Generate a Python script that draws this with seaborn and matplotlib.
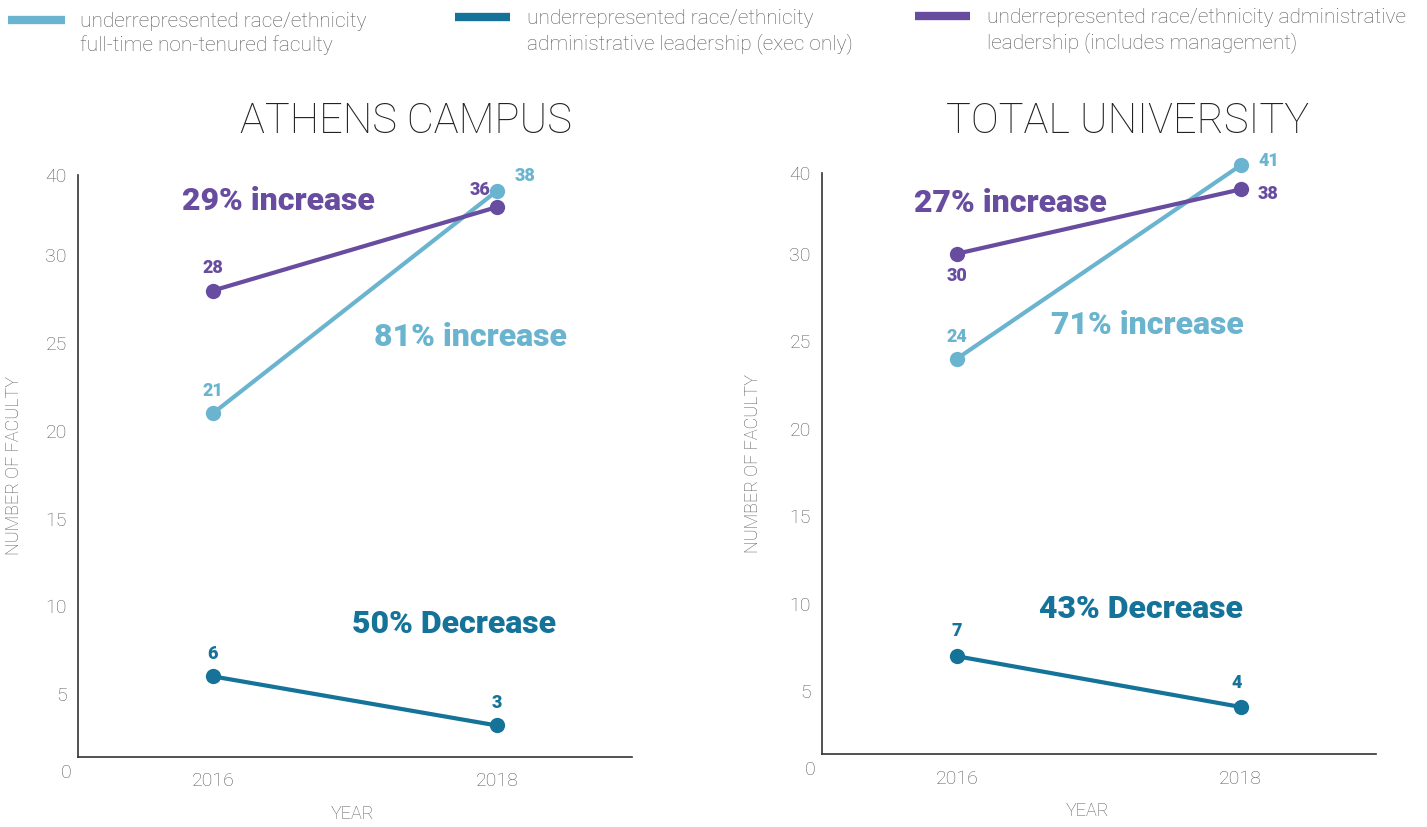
import numpy as np
import pandas as pd
import matplotlib
matplotlib.use('Agg')
import matplotlib.pyplot as plt
import seaborn as sns
from matplotlib.lines import Line2D

# ---- data ----
years = [2016, 2018]
series_names = ['nontenured', 'exec', 'mgmt']
series_labels = ['underrepresented race/ethnicity\nfull-time non-tenured faculty',
                 'underrepresented race/ethnicity\nadministrative leadership (exec only)',
                 'underrepresented race/ethnicity administrative\nleadership (includes management)']
athens_values = {'nontenured': [21, 38], 'exec': [6, 3], 'mgmt': [28, 36]}
total_values = {'nontenured': [24, 41], 'exec': [7, 4], 'mgmt': [30, 38]}
athens_changes = ['81% increase', '50% Decrease', '29% increase']
total_changes = ['71% increase', '43% Decrease', '27% increase']
panel_titles = ['ATHENS CAMPUS', 'TOTAL UNIVERSITY']
ytick_values = [5, 10, 15, 20, 25, 30, 40]

colors = {'nontenured': '#6AB4CF', 'exec': '#15739A', 'mgmt': '#684C9F'}
gray = '#5a5a5a'

# the source axis is not linear: 0..30 in steps of 5, then a jump to 40
knots = [0, 5, 10, 15, 20, 25, 30, 40]
spots = [0, 0.9, 1.9, 2.9, 3.9, 4.9, 5.9, 6.82]


def _piecewise(v, xs, ys):
    v = np.asarray(v, dtype=float)
    out = np.interp(v, xs, ys)
    hi_slope = (ys[-1] - ys[-2]) / (xs[-1] - xs[-2])
    lo_slope = (ys[1] - ys[0]) / (xs[1] - xs[0])
    out = np.where(v > xs[-1], ys[-1] + (v - xs[-1]) * hi_slope, out)
    out = np.where(v < xs[0], ys[0] + (v - xs[0]) * lo_slope, out)
    return out


def fwd(v):
    return _piecewise(v, knots, spots)


def inv(v):
    return _piecewise(v, spots, knots)


sns.set_theme(style='white')
plt.rcParams['font.family'] = ['Roboto', 'DejaVu Sans']

fig = plt.figure(figsize=(14.27, 8.27), dpi=100)
ax_left = fig.add_axes([0.0547, 0.0846, 0.388, 0.704])
ax_right = fig.add_axes([0.576, 0.088, 0.388, 0.7025])

# label offsets (points) per panel / series / year
label_offsets = [
    {'nontenured': [(0, 16), (20, 11)], 'exec': [(0, 16), (0, 16)], 'mgmt': [(0, 16), (-12, 12)]},
    {'nontenured': [(0, 16), (20, 3)], 'exec': [(0, 18), (-3, 17)], 'mgmt': [(0, -16), (20, -3)]},
]
change_pos = [
    {'nontenured': (0.708, 0.722), 'exec': (0.679, 0.228), 'mgmt': (0.361, 0.955)},
    {'nontenured': (0.588, 0.739), 'exec': (0.576, 0.250), 'mgmt': (0.341, 0.949)},
]

for i, (ax, vals, changes, title) in enumerate(zip([ax_left, ax_right],
                                                    [athens_values, total_values],
                                                    [athens_changes, total_changes],
                                                    panel_titles)):
    rows = []
    for s in series_names:
        for y, v in zip(years, vals[s]):
            rows.append({'year': y, 'count': v, 'series': s})
    df = pd.DataFrame(rows)

    ax.set_yscale('function', functions=(fwd, inv))
    sns.lineplot(data=df, x='year', y='count', hue='series', palette=colors,
                 hue_order=series_names, marker='o', markersize=11, markeredgewidth=0,
                 linewidth=3.0, legend=False, ax=ax)
    for ln in ax.lines:
        ln.set_clip_on(False)

    ax.set_xlim(2015.05, 2018.95)
    ax.set_ylim(1.0, 40)
    ax.set_yticks(ytick_values)
    ax.set_yticklabels([str(t) for t in ytick_values])
    ax.set_xticks(years)
    ax.set_xticklabels([str(y) for y in years])
    ax.yaxis.set_minor_locator(matplotlib.ticker.NullLocator())
    ax.set_xticks([2018.95], minor=True)

    ax.tick_params(axis='y', which='major', direction='in', length=11, width=1.2,
                   color='#333333', labelsize=14, labelcolor=gray, pad=8)
    ax.tick_params(axis='x', which='major', length=0, labelsize=14, labelcolor=gray, pad=11)
    ax.tick_params(axis='x', which='minor', direction='in', length=11, width=1.2,
                   color='#333333')
    for lab in ax.get_xticklabels() + ax.get_yticklabels():
        lab.set_fontweight('light')

    # "0" sits under the x axis line
    ax.text(-0.012, 0, '0', transform=ax.get_yaxis_transform(), ha='right', va='center',
            fontsize=14, color=gray, fontweight='light', clip_on=False)

    for side in ['top', 'right']:
        ax.spines[side].set_visible(False)
    for side in ['left', 'bottom']:
        ax.spines[side].set_color('#333333')
        ax.spines[side].set_linewidth(1.2)

    ax.set_ylabel('NUMBER OF FACULTY', fontsize=13, color=gray, fontweight='light')
    ax.set_xlabel('YEAR', fontsize=13, color=gray, fontweight='light')
    ax.yaxis.set_label_coords(-0.099 if i == 0 else -0.108, 0.5)
    ax.xaxis.set_label_coords(0.495 if i == 0 else 0.48, -0.082)

    # value labels
    for s in series_names:
        for j, (y, v) in enumerate(zip(years, vals[s])):
            ax.annotate(str(v), xy=(y, v), xytext=label_offsets[i][s][j],
                        textcoords='offset points', ha='center', va='center',
                        fontsize=13, fontweight='black', color=colors[s],
                        annotation_clip=False)

    # change annotations
    for s, txt in zip(series_names, changes):
        px, py = change_pos[i][s]
        ax.text(px, py, txt, transform=ax.transAxes, ha='center', va='center',
                fontsize=23, fontweight='black', color=colors[s])

fig.text(0.2845, 0.853, panel_titles[0], ha='center', va='center', fontsize=30,
         fontweight='light', color='#222222')
fig.text(0.79, 0.853, panel_titles[1], ha='center', va='center', fontsize=30,
         fontweight='light', color='#222222')

# legend across the top
legend_handles = [(8, 65, 20, 80), (455, 510, 17, 527), (915, 970, 16, 987)]
W, H = 1427, 827
for s, lab, (x0, x1, yy, xt) in zip(series_names, series_labels, legend_handles):
    fig.add_artist(Line2D([x0 / W, x1 / W], [1 - yy / H, 1 - yy / H], color=colors[s],
                          linewidth=6, solid_capstyle='butt', transform=fig.transFigure))
    fig.text(xt / W, 1 - (yy - 8) / H, lab, ha='left', va='top', fontsize=15,
             color=gray, fontweight='light', linespacing=1.3)

plt.savefig('out.png', dpi=100)
plt.close()
